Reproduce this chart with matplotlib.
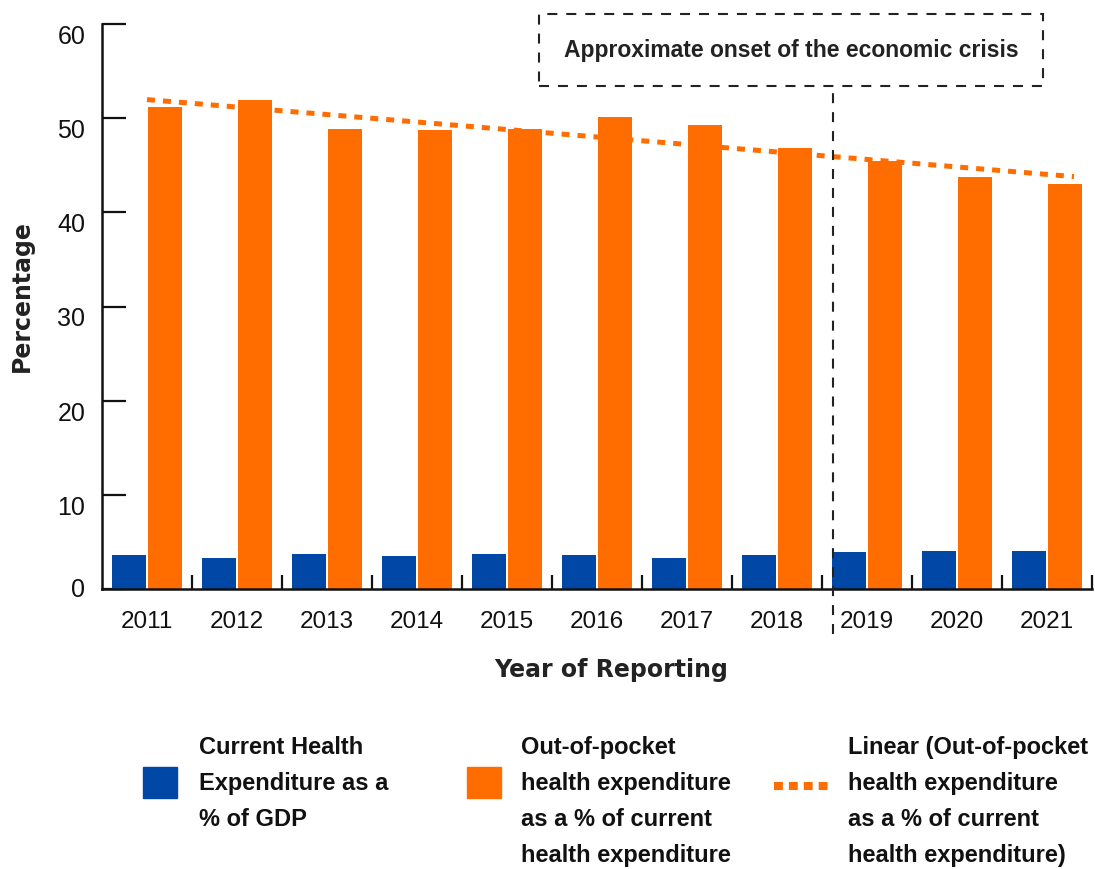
import numpy as np
import matplotlib
matplotlib.use("Agg")
import matplotlib.pyplot as plt
from matplotlib.patches import Rectangle
from matplotlib.lines import Line2D
from matplotlib.transforms import blended_transform_factory

# ---- data -------------------------------------------------------------
years = ["2011", "2012", "2013", "2014", "2015", "2016",
         "2017", "2018", "2019", "2020", "2021"]
che_pct_gdp = [3.6, 3.3, 3.7, 3.5, 3.7, 3.6, 3.3, 3.6, 3.9, 4.0, 4.0]
oop_pct_che = [51.2, 51.9, 48.9, 48.7, 48.9, 50.1, 49.3, 46.8, 45.5, 43.7, 43.0]
y_ticks = [0, 10, 20, 30, 40, 50, 60]

legend_labels = [
    "Current Health\nExpenditure as a\n% of GDP",
    "Out-of-pocket\nhealth expenditure\nas a % of current\nhealth expenditure",
    "Linear (Out-of-pocket\nhealth expenditure\nas a % of current\nhealth expenditure)",
]
crisis_label = "Approximate onset of the economic crisis"

# ---- style ------------------------------------------------------------
BLUE = "#0047a6"
ORANGE = "#ff6d00"
DARK = "#222222"
NARROW = ["Liberation Sans Narrow", "Liberation Sans", "DejaVu Sans"]
REGULAR = ["Liberation Sans", "DejaVu Sans"]
HEAVY = ["DejaVu Sans"]

W, H = 1095, 870
fig = plt.figure(figsize=(W / 100, H / 100), dpi=100)
fig.patch.set_facecolor("white")


def fx(px):
    return px / W


def fy(py):
    return 1 - py / H


ax = fig.add_axes([fx(102), fy(590), 990 / W, 565 / H])

x = np.arange(len(years))
bar_w = 0.37
ax.bar(x - 0.2, che_pct_gdp, bar_w, color=BLUE, zorder=2)
ax.bar(x + 0.2, oop_pct_che, bar_w, color=ORANGE, zorder=2)

# least-squares trend of the out-of-pocket share
slope, intercept = np.polyfit(x, oop_pct_che, 1)
tx = np.array([x[0], x[-1] + 0.3])
ax.plot(tx, intercept + slope * tx, color=ORANGE, lw=3.6,
        dashes=(1.6, 1.6), dash_capstyle="butt", zorder=3, clip_on=False)

ax.set_xlim(-0.5, len(years) - 0.5)
ax.set_ylim(0, 60)

# axes, ticks
for side in ("top", "right"):
    ax.spines[side].set_visible(False)
for side in ("left", "bottom"):
    ax.spines[side].set_color("#111111")
    ax.spines[side].set_linewidth(1.8)

ax.set_xticks(x, years)
ax.set_xticks(np.arange(0.5, len(years), 1), minor=True)
ax.set_yticks(y_ticks)
ax.tick_params(axis="x", which="major", length=0, pad=15, labelsize=17.5,
               labelcolor="#111111")
ax.tick_params(axis="x", which="minor", direction="in", length=10,
               width=1.6, color="#111111")
ax.tick_params(axis="y", direction="in", length=17, width=1.6, pad=12,
               labelsize=18, color="#111111", labelcolor="#111111")
for lbl in ax.get_xticklabels():
    lbl.set_family(NARROW)
for i, lbl in enumerate(ax.get_yticklabels()):
    lbl.set_family(REGULAR)
    lbl.set_va("center" if i == 0 else "top")

ax.set_ylabel("Percentage", fontsize=17, fontweight="bold", family=HEAVY,
              color=DARK)
ax.yaxis.set_label_coords(-0.069, 0.52)
ax.set_xlabel("Year of Reporting", fontsize=17, fontweight="bold",
              family=HEAVY, color=DARK)
ax.xaxis.set_label_coords(0.514, -0.12)

# onset of the economic crisis: dashed marker and framed caption
crisis_x = 7.62
blend = blended_transform_factory(ax.transData, ax.transAxes)
ax.plot([crisis_x, crisis_x], [-0.08, 0.89], transform=blend, color=DARK,
        lw=1.5, dashes=(4.8, 4.3), clip_on=False, zorder=4)
ax.add_patch(Rectangle((0.4414, 0.890), 0.5091, 0.1273, transform=ax.transAxes,
                       fill=False, ec=DARK, lw=1.5, ls=(0, (4.8, 4.3)),
                       clip_on=False))
ax.text(0.696, 0.954, crisis_label, transform=ax.transAxes, ha="center",
        va="center", fontsize=16.5, fontweight="bold", family=NARROW,
        color=DARK)

# legend
fig.patches.append(Rectangle((fx(143), fy(799)), 34 / W, 31 / H,
                             transform=fig.transFigure, color=BLUE))
fig.patches.append(Rectangle((fx(467), fy(799)), 34 / W, 31 / H,
                             transform=fig.transFigure, color=ORANGE))
fig.add_artist(Line2D([fx(774), fx(831)], [fy(787), fy(787)],
                      transform=fig.transFigure, color=ORANGE, lw=5.8,
                      dashes=(1.1, 0.75), dash_capstyle="butt"))
for px, label in zip((199, 521, 848), legend_labels):
    fig.text(fx(px), fy(736), label, ha="left", va="top", fontsize=17,
             fontweight="bold", family=NARROW, color="#111111",
             linespacing=1.72)

fig.savefig("out.png", dpi=100, facecolor="white")
